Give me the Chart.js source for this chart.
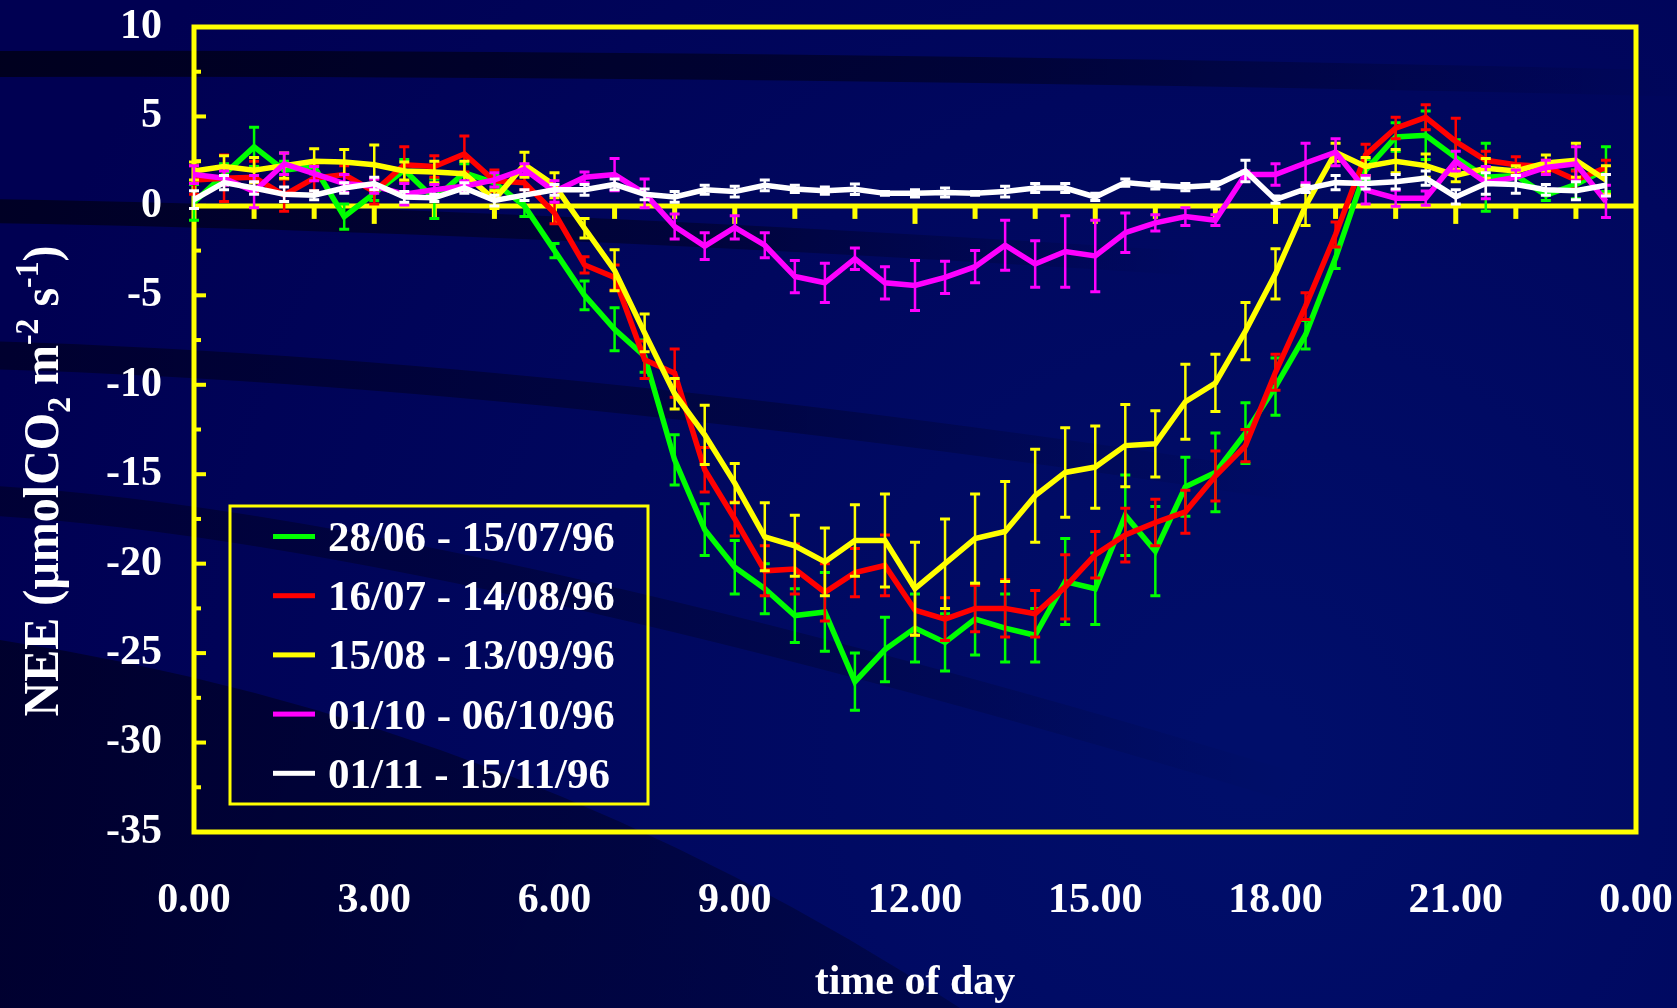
<!DOCTYPE html>
<html>
<head>
<meta charset="utf-8">
<title>NEE - time of day</title>
<script src="https://cdn.jsdelivr.net/npm/chart.js@4.4.0/dist/chart.umd.min.js"></script>
<style>
  html, body { margin: 0; padding: 0; background: #000052; }
  #wrap { width: 1677px; height: 1008px; position: relative; }
</style>
</head>
<body>
<div id="wrap"><canvas id="neeChart"></canvas></div>
<script>
// Halbstundenwerte 0.00 - 23.30
const hours = [0, 0.5, 1, 1.5, 2, 2.5, 3, 3.5, 4, 4.5, 5, 5.5, 6, 6.5, 7, 7.5, 8, 8.5, 9, 9.5, 10, 10.5, 11, 11.5,
               12, 12.5, 13, 13.5, 14, 14.5, 15, 15.5, 16, 16.5, 17, 17.5, 18, 18.5, 19, 19.5, 20, 20.5, 21, 21.5, 22, 22.5, 23, 23.5];

const seriesLabels = ['28/06 - 15/07/96', '16/07 - 14/08/96', '15/08 - 13/09/96', '01/10 - 06/10/96', '01/11 - 15/11/96'];

const neeJunJul = [0.2, 1.75, 3.3, 2.0, 2.2, -0.6, 0.7, 2.0, 0.4, 1.85, 1.3, 0.0, -2.5, -5.0, -6.9, -8.4, -14.2, -18.1, -20.2, -21.4, -22.9, -22.7, -26.6, -24.8,
                   -23.6, -24.4, -23.1, -23.6, -24.0, -21.0, -21.4, -17.3, -19.3, -15.7, -14.9, -12.7, -10.1, -7.2, -2.9, 2.0, 3.85, 3.95, 2.7, 1.6, 1.7, 0.6, 1.2, 2.05];
const errJunJul = [1.0, 0.6, 1.1, 0.5, 0.3, 0.7, 0.4, 0.6, 1.1, 0.5, 0.4, 0.6, 0.4, 0.8, 1.2, 0.9, 1.4, 1.45, 1.5, 1.4, 1.5, 2.2, 1.6, 1.8,
                   1.9, 1.6, 2.0, 1.9, 1.5, 2.4, 2.0, 2.25, 2.5, 1.65, 2.2, 1.7, 1.6, 0.8, 0.6, 0.6, 0.8, 1.35, 1.0, 1.9, 0.5, 0.3, 0.8, 1.25];

const neeJulAug = [1.45, 1.55, 1.6, 0.6, 1.55, 1.75, 0.8, 2.3, 2.2, 2.9, 1.4, 1.3, -0.4, -3.3, -4.0, -8.6, -9.35, -14.75, -17.5, -20.4, -20.3, -21.6, -20.5, -20.1,
                   -22.6, -23.1, -22.5, -22.5, -22.8, -21.3, -19.5, -18.4, -17.7, -17.1, -15.1, -13.4, -9.3, -5.6, -1.6, 2.85, 4.35, 4.95, 3.6, 2.55, 2.3, 2.2, 1.45, 2.15];
const errJulAug = [0.8, 1.3, 0.9, 0.9, 0.7, 0.5, 0.7, 1.0, 0.6, 1.0, 0.6, 0.4, 0.6, 0.45, 0.7, 1.05, 1.35, 1.25, 0.95, 1.4, 1.4, 1.6, 1.35, 1.7,
                   1.4, 1.2, 1.3, 1.6, 1.3, 1.8, 1.3, 1.5, 1.3, 1.2, 1.4, 0.9, 1.0, 0.75, 0.7, 0.6, 0.6, 0.7, 1.3, 0.5, 0.45, 0.35, 0.5, 0.4];

const neeAugSep = [1.95, 2.2, 2.0, 2.25, 2.5, 2.45, 2.3, 1.95, 1.9, 1.8, 0.35, 2.3, 1.15, -1.25, -3.6, -7.1, -10.5, -12.8, -15.5, -18.5, -19.0, -19.9, -18.7, -18.7,
                   -21.4, -20.0, -18.6, -18.2, -16.2, -14.9, -14.6, -13.4, -13.3, -10.95, -9.9, -7.0, -3.8, 0.0, 3.0, 2.2, 2.5, 2.25, 1.7, 2.1, 1.95, 2.4, 2.55, 1.45];
const errAugSep = [0.5, 0.6, 0.7, 0.7, 0.7, 0.7, 1.1, 0.5, 0.6, 0.7, 0.5, 0.7, 0.7, 0.55, 1.15, 1.05, 0.85, 1.65, 1.1, 1.9, 1.7, 1.9, 2.0, 2.6,
                   2.6, 2.5, 2.5, 2.8, 2.6, 2.5, 2.3, 2.3, 1.85, 2.1, 1.6, 1.6, 1.4, 1.1, 0.5, 0.5, 0.65, 0.65, 0.35, 0.55, 0.3, 0.45, 0.95, 0.8];

const neeOct = [1.75, 1.55, 0.8, 2.35, 1.8, 1.25, 1.1, 0.65, 0.9, 1.1, 1.45, 2.05, 0.8, 1.6, 1.75, 0.7, -1.15, -2.25, -1.2, -2.2, -3.95, -4.3, -2.95, -4.3,
                -4.45, -4.0, -3.4, -2.2, -3.25, -2.55, -2.8, -1.5, -0.95, -0.6, -0.8, 1.75, 1.75, 2.4, 3.0, 0.9, 0.43, 0.43, 2.5, 1.3, 1.6, 2.15, 2.35, 0.25];
const errOct = [0.5, 0.4, 0.9, 0.6, 0.4, 0.5, 0.4, 0.6, 0.3, 0.3, 0.4, 0.3, 0.6, 0.3, 0.9, 0.8, 0.7, 0.75, 0.65, 0.7, 0.9, 1.1, 0.6, 0.9,
                1.4, 0.9, 0.9, 1.4, 1.3, 2.0, 2.0, 1.1, 0.45, 0.5, 0.3, 0.2, 0.6, 1.1, 0.75, 0.8, 0.45, 0.4, 0.55, 0.9, 0.4, 0.4, 0.95, 0.9];

const neeNov = [0.35, 1.3, 1.0, 0.65, 0.6, 1.0, 1.25, 0.5, 0.45, 1.0, 0.3, 0.6, 0.9, 0.9, 1.2, 0.65, 0.5, 0.9, 0.8, 1.15, 0.95, 0.85, 0.93, 0.7,
                0.7, 0.75, 0.7, 0.8, 1.0, 1.0, 0.5, 1.3, 1.15, 1.05, 1.15, 1.95, 0.35, 0.95, 1.3, 1.25, 1.35, 1.55, 0.5, 1.25, 1.2, 0.9, 0.85, 1.15];
const errNov = [0.5, 0.4, 0.35, 0.4, 0.25, 0.3, 0.35, 0.3, 0.2, 0.3, 0.3, 0.3, 0.3, 0.3, 0.3, 0.3, 0.3, 0.25, 0.3, 0.3, 0.2, 0.2, 0.3, 0.1,
                0.2, 0.25, 0.1, 0.3, 0.25, 0.25, 0.2, 0.2, 0.2, 0.2, 0.2, 0.6, 0.2, 0.2, 0.4, 0.3, 0.4, 0.4, 0.4, 0.6, 0.5, 0.3, 0.5, 0.6];

const FONT = "'Times New Roman', 'Liberation Serif', serif";
const AXIS_YELLOW = '#ffff00';

function toPoints(values) {
  return hours.map((h, i) => ({ x: h, y: values[i] }));
}

// Hintergrund: dunkelblau mit dunklen Bögen
const backgroundPlugin = {
  id: 'background',
  beforeDraw(chart) {
    const ctx = chart.ctx;
    const w = chart.width, h = chart.height;
    ctx.save();
    const g = ctx.createRadialGradient(1250, 750, 50, 1250, 750, 1300);
    g.addColorStop(0, '#000e6a');
    g.addColorStop(1, '#000052');
    ctx.fillStyle = g;
    ctx.fillRect(0, 0, w, h);

    function band(x0, y0, cx, cy, x1, y1, width, fadeTo, alpha) {
      const lg = ctx.createLinearGradient(0, 0, fadeTo, 0);
      lg.addColorStop(0, 'rgba(0,0,18,' + alpha + ')');
      lg.addColorStop(0.6, 'rgba(0,0,18,' + (alpha * 0.6) + ')');
      lg.addColorStop(1, 'rgba(0,0,18,0)');
      ctx.strokeStyle = lg;
      ctx.lineWidth = width;
      ctx.beginPath();
      ctx.moveTo(x0, y0);
      ctx.quadraticCurveTo(cx, cy, x1, y1);
      ctx.stroke();
    }
    band(-20, 64, 800, 62, 1700, 84, 26, 1700, 0.8);
    band(-20, 211, 700, 222, 1700, 300, 24, 1200, 0.7);
    band(-20, 355, 600, 372, 1500, 520, 28, 1300, 0.55);
    band(-20, 500, 450, 525, 1400, 820, 30, 1300, 0.45);

    // dunkle Fläche unten links
    const lg2 = ctx.createLinearGradient(0, 620, 900, 1008);
    lg2.addColorStop(0, 'rgba(0,0,20,0.6)');
    lg2.addColorStop(1, 'rgba(0,0,20,0.3)');
    ctx.fillStyle = lg2;
    ctx.beginPath();
    ctx.moveTo(0, 640);
    ctx.quadraticCurveTo(520, 720, 960, 1008);
    ctx.lineTo(0, 1008);
    ctx.closePath();
    ctx.fill();
    ctx.restore();
  }
};

// Rahmen, Nulllinie und Tickstriche
const framePlugin = {
  id: 'frame',
  beforeDatasetsDraw(chart) {
    const { ctx, chartArea: a, scales: { x, y } } = chart;
    ctx.save();
    ctx.strokeStyle = AXIS_YELLOW;
    ctx.fillStyle = AXIS_YELLOW;
    ctx.lineWidth = 5;
    ctx.strokeRect(a.left, a.top, a.right - a.left, a.bottom - a.top);

    const y0 = y.getPixelForValue(0);
    ctx.beginPath();
    ctx.moveTo(a.left, y0);
    ctx.lineTo(a.right, y0);
    ctx.stroke();

    // Stundenstriche auf der Nulllinie
    for (let hr = 1; hr < 24; hr++) {
      const px = x.getPixelForValue(hr);
      const len = hr % 3 === 0 ? 18 : 13;
      ctx.fillRect(px - 2.5, y0, 5, len);
    }
    // y-Striche alle 2.5
    for (let v = -32.5; v < 10; v += 2.5) {
      const py = y.getPixelForValue(v);
      const len = (v % 5 === 0) ? 12 : 7;
      ctx.fillRect(a.left, py - 2, len, 4);
    }
    ctx.restore();
  }
};

// Fehlerbalken direkt nach jeder Linie zeichnen
const errorBarPlugin = {
  id: 'errorBars',
  afterDatasetDraw(chart, args) {
    const ds = chart.data.datasets[args.index];
    if (!ds.errors) return;
    const { ctx, scales: { x, y } } = chart;
    ctx.save();
    ctx.strokeStyle = ds.borderColor;
    ctx.lineCap = 'butt';
    ds.data.forEach((p, i) => {
      const e = ds.errors[i];
      const px = x.getPixelForValue(p.x);
      const top = y.getPixelForValue(p.y + e);
      const bot = y.getPixelForValue(p.y - e);
      ctx.lineWidth = 2.5;
      ctx.beginPath();
      ctx.moveTo(px, top);
      ctx.lineTo(px, bot);
      ctx.stroke();
      ctx.lineWidth = 3;
      ctx.beginPath();
      ctx.moveTo(px - 5, top);
      ctx.lineTo(px + 5, top);
      ctx.moveTo(px - 5, bot);
      ctx.lineTo(px + 5, bot);
      ctx.stroke();
    });
    ctx.restore();
  }
};

// Legende im Diagramm und y-Achsentitel mit Hoch-/Tiefstellung
const annotationPlugin = {
  id: 'annotations',
  afterDraw(chart) {
    const { ctx, chartArea: a } = chart;
    ctx.save();

    // Legende
    const bx = a.left + 36, by = a.top + 479, bw = 418, bh = 298;
    ctx.strokeStyle = AXIS_YELLOW;
    ctx.lineWidth = 3;
    ctx.strokeRect(bx, by, bw, bh);
    ctx.font = 'bold 43px ' + FONT;
    ctx.textBaseline = 'alphabetic';
    ctx.textAlign = 'left';
    chart.data.datasets.forEach((ds, i) => {
      const base = by + 45 + i * 59.2;
      ctx.fillStyle = ds.borderColor;
      ctx.fillRect(bx + 43, base - 17, 42, 5);
      ctx.fillStyle = '#ffffff';
      ctx.fillText(ds.label, bx + 98, base);
    });

    // y-Titel
    const parts = [
      { t: 'NEE (µmolCO', s: 50, dy: 0 },
      { t: '2', s: 33, dy: 12 },
      { t: ' m', s: 50, dy: 0 },
      { t: '-2', s: 33, dy: -20 },
      { t: ' s', s: 50, dy: 0 },
      { t: '-1', s: 33, dy: -20 },
      { t: ')', s: 50, dy: 0 }
    ];
    let total = 0;
    parts.forEach(p => { ctx.font = 'bold ' + p.s + 'px ' + FONT; p.w = ctx.measureText(p.t).width; total += p.w; });
    const target = 471;
    ctx.translate(58, 481);
    ctx.rotate(-Math.PI / 2);
    ctx.scale(target / total, 1);
    ctx.fillStyle = '#ffffff';
    let cx = -total / 2;
    parts.forEach(p => {
      ctx.font = 'bold ' + p.s + 'px ' + FONT;
      ctx.fillText(p.t, cx, p.dy);
      cx += p.w;
    });
    ctx.restore();
  }
};

const neeChart = document.querySelector('#neeChart');

new Chart(neeChart, {
  type: 'line',
  data: {
    datasets: [
      { label: seriesLabels[0], data: toPoints(neeJunJul), errors: errJunJul, borderColor: '#00ff00', order: 5 },
      { label: seriesLabels[1], data: toPoints(neeJulAug), errors: errJulAug, borderColor: '#ff0000', order: 4 },
      { label: seriesLabels[2], data: toPoints(neeAugSep), errors: errAugSep, borderColor: '#ffff00', order: 3 },
      { label: seriesLabels[3], data: toPoints(neeOct), errors: errOct, borderColor: '#ff00ff', order: 2 },
      { label: seriesLabels[4], data: toPoints(neeNov), errors: errNov, borderColor: '#ffffff', order: 1 }
    ].map(ds => Object.assign(ds, { borderWidth: 5.5, pointRadius: 0, tension: 0, fill: false, backgroundColor: ds.borderColor }))
  },
  options: {
    responsive: true,
    maintainAspectRatio: false,
    animation: false,
    events: [],
    layout: { padding: { top: 27, right: 41, left: 0, bottom: 0 } },
    scales: {
      x: {
        type: 'linear',
        min: 0,
        max: 24,
        grid: { display: false },
        border: { display: false },
        ticks: {
          stepSize: 3,
          autoSkip: false,
          maxRotation: 0,
          padding: 36,
          color: '#ffffff',
          font: { family: FONT, size: 42, weight: 'bold' },
          callback: function (value) {
            return (value % 24).toFixed(2);
          }
        },
        title: {
          display: true,
          text: 'time of day',
          color: '#ffffff',
          padding: { top: 0, bottom: 0 },
          font: { family: FONT, size: 42, weight: 'bold' }
        },
        afterFit: function (scale) {
          scale.height = 176;
          scale.paddingLeft = 0;
          scale.paddingRight = 0;
        }
      },
      y: {
        min: -35,
        max: 10,
        grid: { display: false },
        border: { display: false },
        ticks: {
          stepSize: 5,
          padding: 24,
          color: '#ffffff',
          font: { family: FONT, size: 42, weight: 'bold' }
        },
        afterFit: function (scale) {
          scale.width = 194;
          scale.paddingTop = 0;
          scale.paddingBottom = 0;
        }
      }
    },
    plugins: {
      legend: { display: false },
      tooltip: { enabled: false }
    }
  },
  plugins: [backgroundPlugin, framePlugin, errorBarPlugin, annotationPlugin]
});
</script>
</body>
</html>
